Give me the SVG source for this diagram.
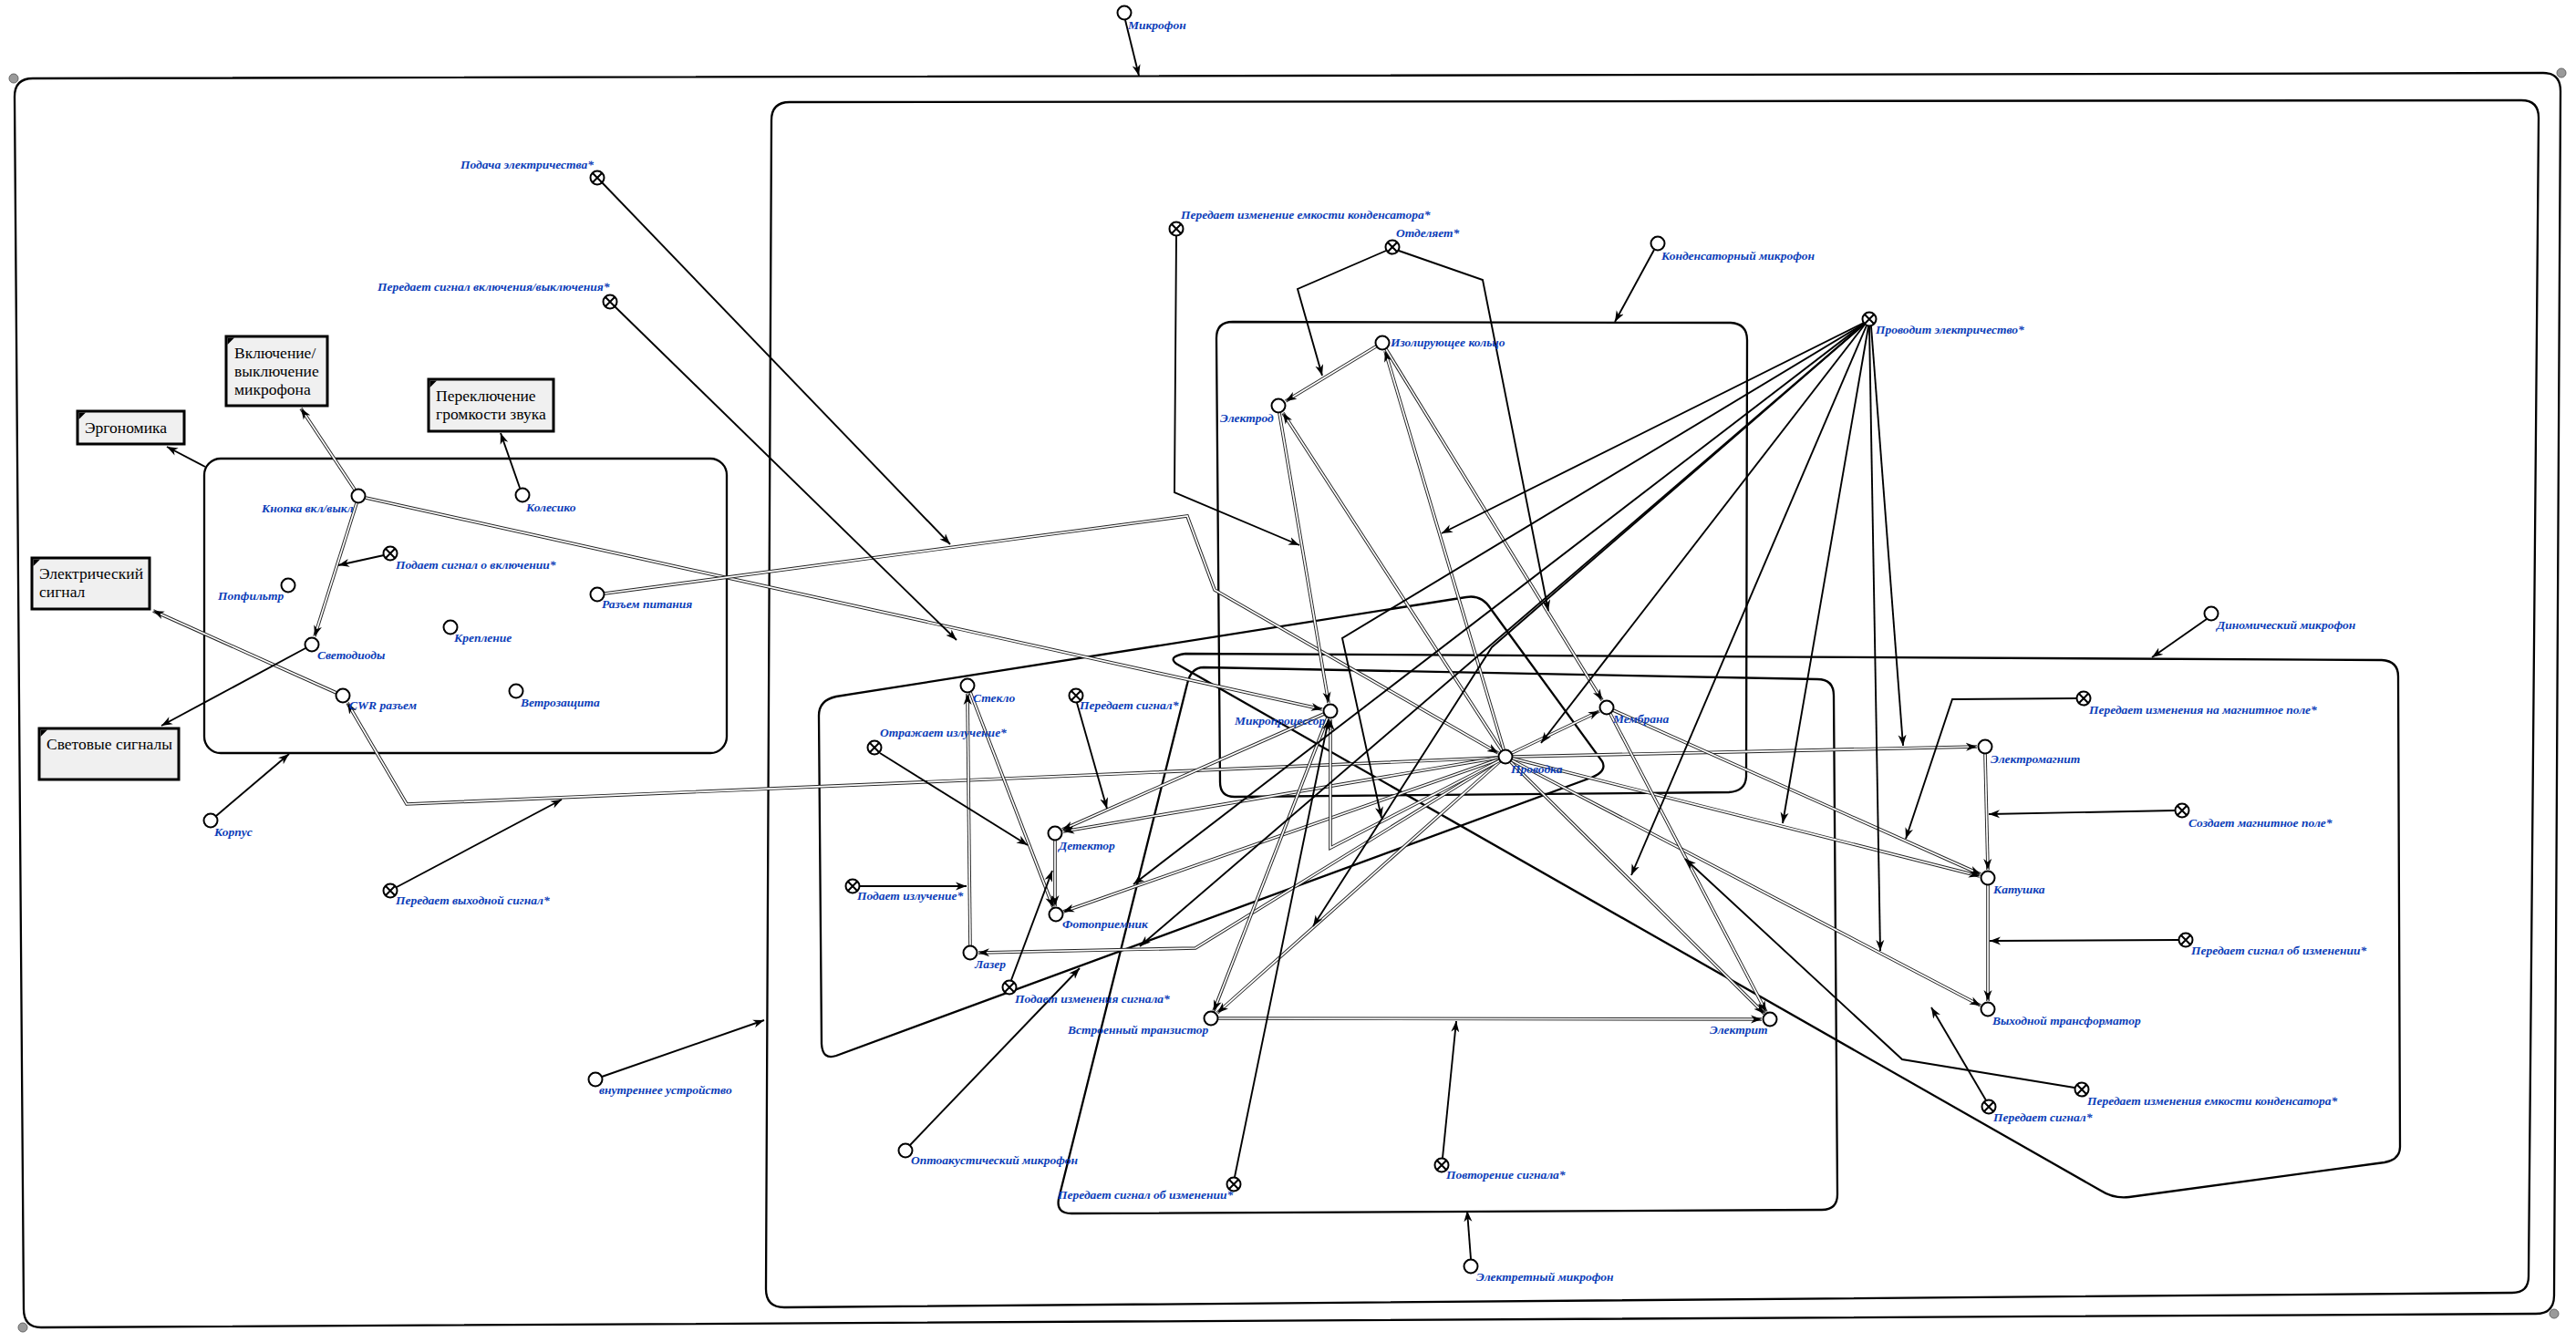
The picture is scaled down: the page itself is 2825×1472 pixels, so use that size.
<svg xmlns="http://www.w3.org/2000/svg" xmlns:xlink="http://www.w3.org/1999/xlink" width="2825" height="1472" viewBox="0 0 2825 1472">
<style>
.lbl{font-family:"Liberation Serif","Times New Roman",serif;font-style:italic;font-weight:bold;font-size:13.5px;fill:#0b3db8}
.bt{font-family:"Liberation Serif","Times New Roman",serif;font-size:17.5px;fill:#000}
.box{fill:#f0f0f0;stroke:#000;stroke-width:3}
.nd{fill:#fff;stroke:#000;stroke-width:2}
.xl{fill:none;stroke:#000;stroke-width:2}
.fr{fill:none;stroke:#000;stroke-width:2.3}
.ln{fill:none;stroke:#000;stroke-width:1.9;marker-end:url(#ah)}
.do{fill:none;stroke:#222;stroke-width:3.6}
.di{fill:none;stroke:#fff;stroke-width:1.7;marker-end:url(#ah)}
.dot{fill:#9a9a9a;stroke:#666;stroke-width:1}
</style>
<defs>
<marker id="ah" viewBox="0 0 12 10" refX="12" refY="5" markerWidth="12" markerHeight="10" orient="auto" markerUnits="userSpaceOnUse"><path d="M0,0.5 L12,5 L0,9.5 L3.5,5 Z" fill="#000"/></marker>
<g id="on"><circle class="nd" r="7.5"/></g>
<g id="xn"><circle class="nd" r="7.5"/><path class="xl" d="M-5.2,-5.2L5.2,5.2M5.2,-5.2L-5.2,5.2"/></g>
<g id="tri"><path d="M1.5,1.5 L9,1.5 L1.5,9 Z" fill="#000"/></g>
</defs>
<rect width="2825" height="1472" fill="#fff"/>

<g id="frames">
<path id="frame-outer" class="fr" d="M36,86 L2789,80 Q2808,80 2808,100 L2801,1421 Q2801,1441 2781,1441 L45,1456 Q26,1456 26,1436 L16,106 Q16,86 36,86 Z"/>
<circle class="dot" cx="15" cy="86" r="5"/><circle class="dot" cx="2809" cy="80" r="5"/><circle class="dot" cx="2801" cy="1441" r="5"/><circle class="dot" cx="25" cy="1456" r="5"/>
<path id="frame-inner" class="fr" d="M866,112 L2765,110 Q2784,110 2784,129 L2773,1400 Q2773,1418 2755,1418 L860,1434 Q840,1434 840,1414 L846,132 Q846,112 866,112 Z"/>
<rect id="box-body" class="fr" x="224" y="503" width="573" height="323" rx="18"/>
<path id="box-condenser" class="fr" d="M1352,353 L1898,354 Q1916,355 1916,373 L1915,852 Q1914,868 1896,869 L1354,874 Q1338,874 1338,858 L1334,371 Q1334,353 1352,353 Z"/>
<path id="box-optical" class="fr" d="M917,764 L1608,655 Q1625,652 1635,668 L1757,835 Q1763,846 1745,853 L917,1158 Q902,1163 901,1145 L898,785 Q898,768 917,764 Z"/>
<path id="box-electret" class="fr" d="M1320,732 L1993,745 Q2011,745 2011,763 L2015,1310 Q2015,1327 1998,1327 L1175,1331 Q1158,1331 1161,1315 L1302,750 Q1306,732 1320,732 Z"/>
<path id="box-dynamic" class="fr" d="M1300,717 L2612,724 Q2630,725 2630,742 L2632,1258 Q2632,1272 2615,1275 L2335,1313 Q2318,1315 2304,1306 L1290,728 Q1280,720 1300,717 Z"/>
</g>

<g id="connectors">
<path class="do" d="M389,537 L330,448"/><path class="di" d="M389,537 L330,448"/>
<path class="do" d="M391,552 L345,698"/><path class="di" d="M391,552 L345,698"/>
<path class="do" d="M401,546 L1450,778"/><path class="di" d="M401,546 L1450,778"/>
<path class="do" d="M369,760 L168,670"/><path class="di" d="M369,760 L168,670"/>
<path class="do" d="M1643,831 L446,882 L381,771"/><path class="di" d="M1643,831 L446,882 L381,771"/>
<path class="do" d="M663,651 L1302,566 L1332,647 L1643,826"/><path class="di" d="M663,651 L1302,566 L1332,647 L1643,826"/>
<path class="do" d="M1509,380 L1410,440"/><path class="di" d="M1509,380 L1410,440"/>
<path class="do" d="M1403,453 L1457,771"/><path class="di" d="M1403,453 L1457,771"/>
<path class="do" d="M1647,823 L1407,453"/><path class="di" d="M1647,823 L1407,453"/>
<path class="do" d="M1649,822 L1519,385"/><path class="di" d="M1649,822 L1519,385"/>
<path class="do" d="M1520,383 L1757,768"/><path class="di" d="M1520,383 L1757,768"/>
<path class="do" d="M1658,826 L1754,780"/><path class="di" d="M1658,826 L1754,780"/>
<path class="do" d="M1659,830 L2168,819"/><path class="di" d="M1659,830 L2168,819"/>
<path class="do" d="M1659,832 L2171,961"/><path class="di" d="M1659,832 L2171,961"/>
<path class="do" d="M1769,779 L2172,959"/><path class="di" d="M1769,779 L2172,959"/>
<path class="do" d="M1658,834 L2172,1103"/><path class="di" d="M1658,834 L2172,1103"/>
<path class="do" d="M1657,836 L1935,1112"/><path class="di" d="M1657,836 L1935,1112"/>
<path class="do" d="M1766,783 L1937,1110"/><path class="di" d="M1766,783 L1937,1110"/>
<path class="do" d="M2177,827 L2180,954"/><path class="di" d="M2177,827 L2180,954"/>
<path class="do" d="M2180,971 L2180,1098"/><path class="di" d="M2180,971 L2180,1098"/>
<path class="do" d="M1336,1117 L1932,1118"/><path class="di" d="M1336,1117 L1932,1118"/>
<path class="do" d="M1452,783 L1165,910"/><path class="di" d="M1452,783 L1165,910"/>
<path class="do" d="M1643,831 L1166,912"/><path class="di" d="M1643,831 L1166,912"/>
<path class="do" d="M1643,833 L1166,1000"/><path class="di" d="M1643,833 L1166,1000"/>
<path class="do" d="M1157,922 L1157,994"/><path class="di" d="M1157,922 L1157,994"/>
<path class="do" d="M1064,759 L1155,995"/><path class="di" d="M1064,759 L1155,995"/>
<path class="do" d="M1064,1037 L1061,761"/><path class="di" d="M1064,1037 L1061,761"/>
<path class="do" d="M1644,834 L1311,1040 L1073,1045"/><path class="di" d="M1644,834 L1311,1040 L1073,1045"/>
<path class="do" d="M1456,787 L1331,1109"/><path class="di" d="M1456,787 L1331,1109"/>
<path class="do" d="M1645,835 L1335,1111"/><path class="di" d="M1645,835 L1335,1111"/>
<path class="do" d="M1645,834 L1459,930 L1459,789"/><path class="di" d="M1645,834 L1459,930 L1459,789"/>

<path class="ln" d="M1234,22 L1249,83"/>
<path class="ln" d="M660,200 L1042,597"/>
<path class="ln" d="M674,336 L1049,702"/>
<path class="ln" d="M421,609 L371,620"/>
<path class="ln" d="M335,711 L177,796"/>
<path class="ln" d="M570,535 L549,475"/>
<path class="ln" d="M225,512 L183,490"/>
<path class="ln" d="M237,895 L317,827"/>
<path class="ln" d="M435,973 L616,877"/>
<path class="ln" d="M660,1181 L838,1119"/>
<path class="ln" d="M1290,258 L1288,540 L1425,598"/>
<path class="ln" d="M1520,275 L1423,317 L1450,412"/>
<path class="ln" d="M1534,275 L1626,307 L1698,670"/>
<path class="ln" d="M1814,274 L1771,353"/>
<path class="ln" d="M2044,354 L1581,585"/>
<path class="ln" d="M2045,356 L1690,815"/>
<path class="ln" d="M2047,357 L1789,960"/>
<path class="ln" d="M2049,358 L1955,903"/>
<path class="ln" d="M2052,358 L2087,818"/>
<path class="ln" d="M2050,358 L2062,1043"/>
<path class="ln" d="M2044,355 L1243,970"/>
<path class="ln" d="M2044,356 L1250,1038"/>
<path class="ln" d="M2044,356 L1636,710 L1440,1016"/>
<path class="ln" d="M2044,355 L1472,700 L1515,897"/>
<path class="ln" d="M965,826 L1127,927"/>
<path class="ln" d="M1181,771 L1214,887"/>
<path class="ln" d="M943,972 L1060,972"/>
<path class="ln" d="M1109,1075 L1154,955"/>
<path class="ln" d="M998,1256 L1184,1062"/>
<path class="ln" d="M1354,1291 L1457,789"/>
<path class="ln" d="M1582,1270 L1597,1120"/>
<path class="ln" d="M1613,1381 L1609,1328"/>
<path class="ln" d="M2420,679 L2360,721"/>
<path class="ln" d="M2277,766 L2141,767 L2090,920"/>
<path class="ln" d="M2385,889 L2181,893"/>
<path class="ln" d="M2389,1031 L2182,1032"/>
<path class="ln" d="M2275,1193 L2086,1162 L1848,942"/>
<path class="ln" d="M2178,1207 L2118,1105"/>
</g>

<g id="box-ergonomika"><rect class="box" x="85" y="451" width="117" height="36"/><use href="#tri" x="85" y="451"/><text class="bt" x="93" y="475">Эргономика</text></g>
<g id="box-vkl"><rect class="box" x="248" y="369" width="111" height="76"/><use href="#tri" x="248" y="369"/><text class="bt" x="257" y="393">Включение/</text><text class="bt" x="257" y="413">выключение</text><text class="bt" x="257" y="433">микрофона</text></g>
<g id="box-gromk"><rect class="box" x="470" y="416" width="137" height="57"/><use href="#tri" x="470" y="416"/><text class="bt" x="478" y="440">Переключение</text><text class="bt" x="478" y="460">громкости звука</text></g>
<g id="box-elsig"><rect class="box" x="35" y="612" width="129" height="56"/><use href="#tri" x="35" y="612"/><text class="bt" x="43" y="635">Электрический</text><text class="bt" x="43" y="655">сигнал</text></g>
<g id="box-svet"><rect class="box" x="43" y="799" width="153" height="56"/><use href="#tri" x="43" y="799"/><text class="bt" x="51" y="822">Световые сигналы</text></g>

<g id="n-mikrofon"><use href="#on" x="1233" y="14"/><text class="lbl" x="1237" y="32">Микрофон</text></g>
<g id="n-podacha"><use href="#xn" x="655" y="195"/><text class="lbl" x="505" y="185">Подача электричества*</text></g>
<g id="n-pvkl"><use href="#xn" x="669" y="331"/><text class="lbl" x="414" y="319">Передает сигнал включения/выключения*</text></g>
<g id="n-emk1"><use href="#xn" x="1290" y="251"/><text class="lbl" x="1295" y="240">Передает изменение емкости конденсатора*</text></g>
<g id="n-otd"><use href="#xn" x="1527" y="271"/><text class="lbl" x="1531" y="260">Отделяет*</text></g>
<g id="n-km"><use href="#on" x="1818" y="267"/><text class="lbl" x="1822" y="285">Конденсаторный микрофон</text></g>
<g id="n-iz"><use href="#on" x="1516" y="376"/><text class="lbl" x="1525" y="380">Изолирующее кольцо</text></g>
<g id="n-prov"><use href="#xn" x="2050" y="350"/><text class="lbl" x="2057" y="366">Проводит электричество*</text></g>
<g id="n-elod"><use href="#on" x="1402" y="445"/><text class="lbl" x="1338" y="463">Электрод</text></g>
<g id="n-knopka"><use href="#on" x="393" y="544"/><text class="lbl" x="287" y="562">Кнопка вкл/выкл</text></g>
<g id="n-koles"><use href="#on" x="573" y="543"/><text class="lbl" x="577" y="561">Колесико</text></g>
<g id="n-pso"><use href="#xn" x="428" y="607"/><text class="lbl" x="434" y="624">Подает сигнал о включении*</text></g>
<g id="n-pop"><use href="#on" x="316" y="642"/><text class="lbl" x="239" y="658">Попфильтр</text></g>
<g id="n-rp"><use href="#on" x="655" y="652"/><text class="lbl" x="660" y="667">Разъем питания</text></g>
<g id="n-krep"><use href="#on" x="494" y="688"/><text class="lbl" x="498" y="704">Крепление</text></g>
<g id="n-svet"><use href="#on" x="342" y="707"/><text class="lbl" x="348" y="723">Светодиоды</text></g>
<g id="n-vet"><use href="#on" x="566" y="758"/><text class="lbl" x="571" y="775">Ветрозащита</text></g>
<g id="n-cwr"><use href="#on" x="376" y="763"/><text class="lbl" x="383" y="778">CWR разъем</text></g>
<g id="n-korp"><use href="#on" x="231" y="900"/><text class="lbl" x="235" y="917">Корпус</text></g>
<g id="n-vyh"><use href="#xn" x="428" y="977"/><text class="lbl" x="434" y="992">Передает выходной сигнал*</text></g>
<g id="n-vu"><use href="#on" x="653" y="1184"/><text class="lbl" x="657" y="1200">внутреннее устройство</text></g>
<g id="n-stek"><use href="#on" x="1061" y="752"/><text class="lbl" x="1067" y="770">Стекло</text></g>
<g id="n-psig"><use href="#xn" x="1180" y="763"/><text class="lbl" x="1184" y="778">Передает сигнал*</text></g>
<g id="n-otr"><use href="#xn" x="959" y="820"/><text class="lbl" x="965" y="808">Отражает излучение*</text></g>
<g id="n-det"><use href="#on" x="1157" y="914"/><text class="lbl" x="1161" y="932">Детектор</text></g>
<g id="n-pizl"><use href="#xn" x="935" y="972"/><text class="lbl" x="940" y="987">Подает излучение*</text></g>
<g id="n-foto"><use href="#on" x="1158" y="1003"/><text class="lbl" x="1165" y="1018">Фотоприемник</text></g>
<g id="n-laz"><use href="#on" x="1064" y="1045"/><text class="lbl" x="1069" y="1062">Лазер</text></g>
<g id="n-pis"><use href="#xn" x="1107" y="1083"/><text class="lbl" x="1113" y="1100">Подает изменения сигнала*</text></g>
<g id="n-vt"><use href="#on" x="1328" y="1117"/><text class="lbl" x="1171" y="1134">Встроенный транзистор</text></g>
<g id="n-oam"><use href="#on" x="993" y="1262"/><text class="lbl" x="999" y="1277">Оптоакустический микрофон</text></g>
<g id="n-psob1"><use href="#xn" x="1353" y="1299"/><text class="lbl" x="1160" y="1315">Передает сигнал об изменении*</text></g>
<g id="n-povt"><use href="#xn" x="1581" y="1278"/><text class="lbl" x="1586" y="1293">Повторение сигнала*</text></g>
<g id="n-emic"><use href="#on" x="1613" y="1389"/><text class="lbl" x="1619" y="1405">Электретный микрофон</text></g>
<g id="n-elit"><use href="#on" x="1941" y="1118"/><text class="lbl" x="1875" y="1134">Электрит</text></g>
<g id="n-mp"><use href="#on" x="1459" y="780"/><text class="lbl" x="1354" y="795">Микропроцессор</text></g>
<g id="n-pr"><use href="#on" x="1651" y="830"/><text class="lbl" x="1657" y="848">Проводка</text></g>
<g id="n-mem"><use href="#on" x="1762" y="776"/><text class="lbl" x="1769" y="793">Мембрана</text></g>
<g id="n-dm"><use href="#on" x="2425" y="673"/><text class="lbl" x="2431" y="690">Диномический микрофон</text></g>
<g id="n-mag"><use href="#xn" x="2285" y="766"/><text class="lbl" x="2291" y="783">Передает изменения на магнитное поле*</text></g>
<g id="n-em"><use href="#on" x="2177" y="819"/><text class="lbl" x="2183" y="837">Электромагнит</text></g>
<g id="n-sozd"><use href="#xn" x="2393" y="889"/><text class="lbl" x="2400" y="907">Создает магнитное поле*</text></g>
<g id="n-kat"><use href="#on" x="2180" y="963"/><text class="lbl" x="2186" y="980">Катушка</text></g>
<g id="n-psob2"><use href="#xn" x="2397" y="1031"/><text class="lbl" x="2403" y="1047">Передает сигнал об изменении*</text></g>
<g id="n-vyt"><use href="#on" x="2180" y="1107"/><text class="lbl" x="2185" y="1124">Выходной трансформатор</text></g>
<g id="n-emk2"><use href="#xn" x="2283" y="1195"/><text class="lbl" x="2289" y="1212">Передает изменения емкости конденсатора*</text></g>
<g id="n-psig2"><use href="#xn" x="2181" y="1214"/><text class="lbl" x="2186" y="1230">Передает сигнал*</text></g>
</svg>
